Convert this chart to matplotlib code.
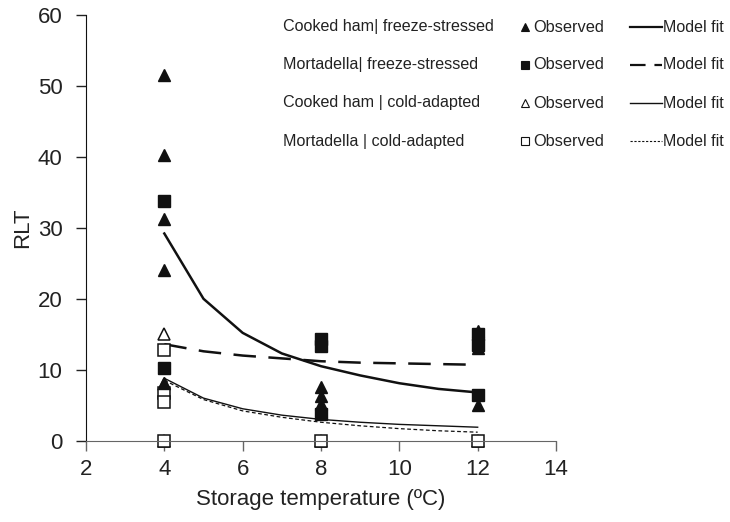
import numpy as np
import matplotlib
matplotlib.use("Agg")
import matplotlib.pyplot as plt
from matplotlib.lines import Line2D

plt.rcParams['font.family'] = ['Liberation Sans', 'DejaVu Sans']

# observed RLT values (storage temperature, RLT)
ham_fs_x = [4, 4, 4, 4, 4, 8, 8, 8, 8, 12, 12, 12]
ham_fs_y = [51.5, 40.3, 31.3, 24.0, 8.1, 7.5, 6.3, 5.2, 4.0, 15.5, 13.0, 5.0]
mort_fs_x = [4, 4, 8, 8, 8, 12, 12, 12]
mort_fs_y = [33.8, 10.3, 14.3, 13.3, 3.7, 15.0, 13.5, 6.4]
ham_ca_x = [4, 4, 4, 8, 12]
ham_ca_y = [15.0, 8.0, 0.0, 0.0, 0.0]
mort_ca_x = [4, 4, 4, 4, 8, 12]
mort_ca_y = [12.8, 6.7, 5.5, 0.0, 0.0, 0.0]

# model fits
temp_fit = [4, 5, 6, 7, 8, 9, 10, 11, 12]
ham_fs_fit = [29.2, 20.0, 15.2, 12.3, 10.5, 9.2, 8.1, 7.3, 6.8]
mort_fs_fit = [13.6, 12.6, 12.0, 11.6, 11.2, 11.0, 10.9, 10.8, 10.7]
ham_ca_fit = [8.8, 6.0, 4.5, 3.6, 3.0, 2.6, 2.3, 2.1, 1.9]
mort_ca_fit = [8.5, 5.8, 4.2, 3.3, 2.6, 2.1, 1.7, 1.4, 1.2]

legend_labels = ["Cooked ham| freeze-stressed", "Mortadella| freeze-stressed",
                 "Cooked ham | cold-adapted", "Mortadella | cold-adapted"]

W, H = 730, 522
fig = plt.figure(figsize=(W / 100, H / 100), dpi=100)
ax = fig.add_axes([86 / W, 1 - 440.7 / H, (556 - 86) / W, (440.7 - 15) / H])

ax.plot(temp_fit, ham_fs_fit, color="#111", lw=1.8)
ax.plot(temp_fit, mort_fs_fit, color="#111", lw=1.8, dashes=(9, 5))
ax.plot(temp_fit, ham_ca_fit, color="#111", lw=1.0)
ax.plot(temp_fit, mort_ca_fit, color="#111", lw=0.9, dashes=(3, 2))

ax.plot(ham_ca_x, ham_ca_y, "^", ms=9, mfc="white", mec="#111", mew=1.1, ls="none", clip_on=False)
ax.plot(mort_ca_x, mort_ca_y, "s", ms=9, mfc="white", mec="#111", mew=1.1, ls="none", clip_on=False)
ax.plot(ham_fs_x, ham_fs_y, "^", ms=9, color="#111", ls="none", clip_on=False)
ax.plot(mort_fs_x, mort_fs_y, "s", ms=9, color="#111", ls="none", clip_on=False)

ax.set_xlim(2, 14)
ax.set_ylim(0, 60)
ax.set_xticks(range(2, 15, 2))
ax.set_yticks(range(0, 61, 10))
for s in ["top", "right"]:
    ax.spines[s].set_visible(False)
ax.spines["bottom"].set_color("#666")
ax.spines["left"].set_color("#111")
ax.tick_params(axis="both", labelsize=16, colors="#222", length=7, width=1)
ax.tick_params(axis="y", pad=10)
ax.tick_params(axis="x", color="#666", pad=6)
ax.set_xlabel("Storage temperature (ºC)", fontsize=16, color="#222", labelpad=7)
ax.set_ylabel("RLT", fontsize=16, color="#222", labelpad=3)

# hand-built legend
rows_y = [27, 65, 103, 141]
mark_specs = [("^", "#111"), ("s", "#111"), ("^", "white"), ("s", "white")]
line_specs = [(1.6, None), (1.6, (7, 4)), (1.0, None), (0.8, (2, 1.5))]
for i, yp in enumerate(rows_y):
    fy = 1 - yp / H
    fig.text(283 / W, fy, legend_labels[i], fontsize=11.6, color="#222", va="center")
    m, fc = mark_specs[i]
    fig.add_artist(Line2D([525 / W], [fy], marker=m, ms=6, mfc=fc, mec="#111",
                          mew=0.8, ls="none", transform=fig.transFigure))
    fig.text(533 / W, fy, "Observed", fontsize=11.8, color="#222", va="center")
    lw, d = line_specs[i]
    ln = Line2D([630 / W, 662 / W], [fy, fy], color="#111", lw=lw, transform=fig.transFigure)
    if d:
        ln.set_dashes(d)
    fig.add_artist(ln)
    fig.text(663 / W, fy, "Model fit", fontsize=11.5, color="#222", va="center")

fig.savefig("out.png", dpi=100)
